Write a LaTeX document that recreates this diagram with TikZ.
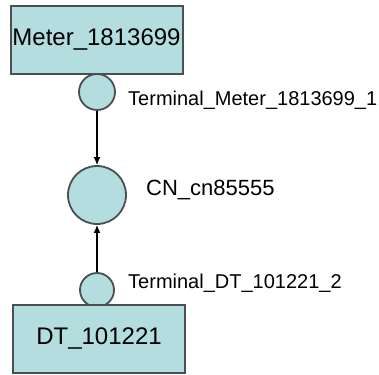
\documentclass[tikz,border=0pt]{standalone}
\usepackage{fontspec}
\setmainfont{Liberation Sans}
\usetikzlibrary{arrows.meta}
\definecolor{nodefill}{RGB}{180,221,224}
\definecolor{nodeline}{RGB}{72,80,82}
\begin{document}
\begin{tikzpicture}[x=1pt,y=-1pt,
  devbox/.style={draw=nodeline,fill=nodefill,line width=2pt,minimum width=172pt,minimum height=68pt,inner sep=0pt,font=\fontsize{24}{28}\selectfont},
  termcirc/.style={circle,draw=nodeline,fill=nodefill,line width=1.8pt,inner sep=0pt},
  lbl/.style={anchor=west,inner sep=0pt,text=black},
  conn/.style={line width=1.4pt,-{Latex[length=8pt,width=7pt]}}]
\useasboundingbox (0,0) rectangle (379,374);
\node[devbox] (meter) at (96.5,40) {Meter\_1813699};
\node[termcirc,minimum size=36pt] (t1) at (97,92) {};
\node[termcirc,minimum size=58pt] (cn) at (97,195) {};
\node[termcirc,minimum size=34pt] (t2) at (97,290) {};
\node[devbox] (dt) at (99,339) {DT\_101221};
\node[lbl,font=\fontsize{20}{23}\selectfont] (t1l) at (128,100) {Terminal\_Meter\_1813699\_1};
\node[lbl,font=\fontsize{22}{26}\selectfont] (cnl) at (146,190) {CN\_cn85555};
\node[lbl,font=\fontsize{20}{23}\selectfont] (t2l) at (128,283) {Terminal\_DT\_101221\_2};
\draw[conn] (t1) -- (cn);
\draw[conn] (t2) -- (cn);
\end{tikzpicture}
\end{document}
